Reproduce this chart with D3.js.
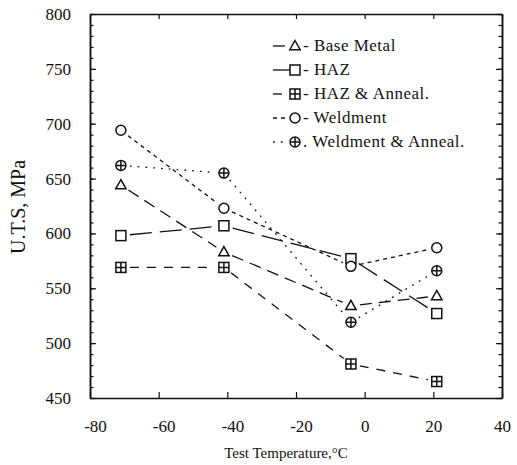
<!DOCTYPE html>
<html>
<head>
<meta charset="utf-8">
<script src="https://cdn.jsdelivr.net/npm/d3@7"></script>
<style>
  body { margin: 0; background: white; }
  text { font-family: "Liberation Serif", "DejaVu Serif", serif; fill: #111; }
</style>
</head>
<body>
<div id="viz-container"></div>
<script>
// data
let temps = [-71, -41, -4, 21];
let baseMetal = [644, 583, 534, 543];
let haz = [598, 607, 577, 527];
let hazAnneal = [569, 569, 481, 465];
let weldment = [694, 623, 570, 587];
let weldAnneal = [662, 655, 519, 566];

let seriesNames = ["Base Metal", "HAZ", "HAZ & Anneal.", "Weldment", "Weldment & Anneal."];
let legendPrefix = ["-", "-", "-", "-", "."];
let xTicks = [-80, -60, -40, -20, 0, 20, 40];
let yTicks = [450, 500, 550, 600, 650, 700, 750, 800];

let series = [
  {name: seriesNames[0], values: baseMetal, marker: "triangle", dash: "12,7"},
  {name: seriesNames[1], values: haz, marker: "square", dash: "22,8"},
  {name: seriesNames[2], values: hazAnneal, marker: "squarePlus", dash: "9,8"},
  {name: seriesNames[3], values: weldment, marker: "circle", dash: "4,4"},
  {name: seriesNames[4], values: weldAnneal, marker: "circlePlus", dash: "1.8,6"}
];

let W = 517, H = 465;
let plotLeft = 90, plotTop = 14, plotRight = 502, plotBottom = 398;

let viz = d3.select("#viz-container")
  .append("svg")
    .attr("width", W)
    .attr("height", H)
    .style("background-color", "white");

let x = d3.scaleLinear().domain([-80, 40]).range([plotLeft, plotRight]);
let y = d3.scaleLinear().domain([450, 800]).range([plotBottom, plotTop]);

// plain hyphen for negatives, like the original
function plainLabel(d) { return String(d); }

// axes, ticks pointing inward
function minorY() { return d3.range(450, 801, 10); }

viz.append("g").attr("transform", "translate(" + plotLeft + ",0)")
  .call(d3.axisLeft(y).tickValues(yTicks).tickSizeInner(-6).tickSizeOuter(0).tickPadding(19).tickFormat(plainLabel));
viz.append("g").attr("transform", "translate(" + plotLeft + ",0)")
  .call(d3.axisLeft(y).tickValues(minorY()).tickSizeInner(-3.5).tickSizeOuter(0).tickFormat(""));
viz.append("g").attr("transform", "translate(" + plotRight + ",0)")
  .call(d3.axisRight(y).tickValues(yTicks).tickSizeInner(-6).tickSizeOuter(0).tickFormat(""));
viz.append("g").attr("transform", "translate(" + plotRight + ",0)")
  .call(d3.axisRight(y).tickValues(minorY()).tickSizeInner(-3.5).tickSizeOuter(0).tickFormat(""));
let xAxisG = viz.append("g").attr("transform", "translate(0," + plotBottom + ")")
  .call(d3.axisBottom(x).tickValues(xTicks).tickSizeInner(-6).tickSizeOuter(0).tickPadding(22).tickFormat(plainLabel));
viz.append("g").attr("transform", "translate(0," + plotTop + ")")
  .call(d3.axisTop(x).tickValues(xTicks).tickSizeInner(-5).tickSizeOuter(0).tickFormat(""));

xAxisG.selectAll(".tick text").attr("dx", d => d < 0 ? 5 : 0);

viz.selectAll(".domain").attr("stroke", "#111").attr("stroke-width", 1.5);
viz.selectAll(".tick line").attr("stroke", "#111").attr("stroke-width", 1.2);
viz.selectAll(".tick text")
  .attr("fill", "#111")
  .style("font-size", "17px")
  .style("font-family", "Liberation Serif");

// axis titles
viz.append("text")
  .text("Test Temperature,\u00b0C")
  .attr("x", (plotLeft + plotRight) / 2 - 10)
  .attr("y", 458)
  .attr("text-anchor", "middle")
  .style("font-size", "15px");

viz.append("text")
  .text("U.T.S, MPa")
  .attr("transform", "translate(25,207) rotate(-90)")
  .attr("text-anchor", "middle")
  .style("font-size", "20px");

// lines, broken a bit before each marker
let gap = 9;
function segments(s) {
  let out = [];
  for (let i = 0; i < temps.length - 1; i++) {
    let x1 = x(temps[i]), y1 = y(s.values[i]);
    let x2 = x(temps[i + 1]), y2 = y(s.values[i + 1]);
    let len = Math.hypot(x2 - x1, y2 - y1);
    let ux = (x2 - x1) / len, uy = (y2 - y1) / len;
    out.push({x1: x1 + ux * gap, y1: y1 + uy * gap, x2: x2 - ux * gap, y2: y2 - uy * gap, dash: s.dash});
  }
  return out;
}

series.forEach(function(s) {
  viz.append("g").selectAll("line").data(segments(s)).enter().append("line")
    .attr("x1", d => d.x1).attr("y1", d => d.y1)
    .attr("x2", d => d.x2).attr("y2", d => d.y2)
    .attr("stroke", "#111")
    .attr("stroke-width", 1.3)
    .attr("stroke-dasharray", d => d.dash);
});

// markers
function drawMarker(g, type) {
  let r = 5;
  if (type == "triangle") {
    g.append("path").attr("d", "M0,-5.5 L5.2,3.7 L-5.2,3.7 Z");
  } else if (type == "square" || type == "squarePlus") {
    g.append("rect").attr("x", -r).attr("y", -r).attr("width", 2 * r).attr("height", 2 * r);
    if (type == "squarePlus") {
      g.append("path").attr("d", "M-" + r + ",0 H" + r + " M0,-" + r + " V" + r);
    }
  } else {
    g.append("circle").attr("r", r);
    if (type == "circlePlus") {
      g.append("path").attr("d", "M-" + r + ",0 H" + r + " M0,-" + r + " V" + r);
    }
  }
  g.selectAll("*").attr("fill", "none").attr("stroke", "#111").attr("stroke-width", 1.5);
  g.select("rect, circle, path").attr("fill", "white");
}

series.forEach(function(s) {
  s.values.forEach(function(v, i) {
    let g = viz.append("g").attr("transform", "translate(" + x(temps[i]) + "," + y(v) + ")");
    drawMarker(g, s.marker);
  });
});

// legend
let legendY = [46, 70, 94, 118, 142];
series.forEach(function(s, i) {
  let ly = legendY[i];
  let lg = viz.append("g");
  lg.append("line").attr("x1", 273).attr("x2", i == 1 ? 290 : 286).attr("y1", ly).attr("y2", ly)
    .attr("stroke", "#111").attr("stroke-width", 1.3).attr("stroke-dasharray", i == 1 ? null : s.dash);
  let m = lg.append("g").attr("transform", "translate(295," + ly + ")");
  drawMarker(m, s.marker);
  lg.append("text")
    .text(legendPrefix[i] + " " + s.name)
    .attr("x", 303)
    .attr("y", ly + 5)
    .style("font-size", "17px")
    .style("letter-spacing", "0.5px");
});
</script>
</body>
</html>
